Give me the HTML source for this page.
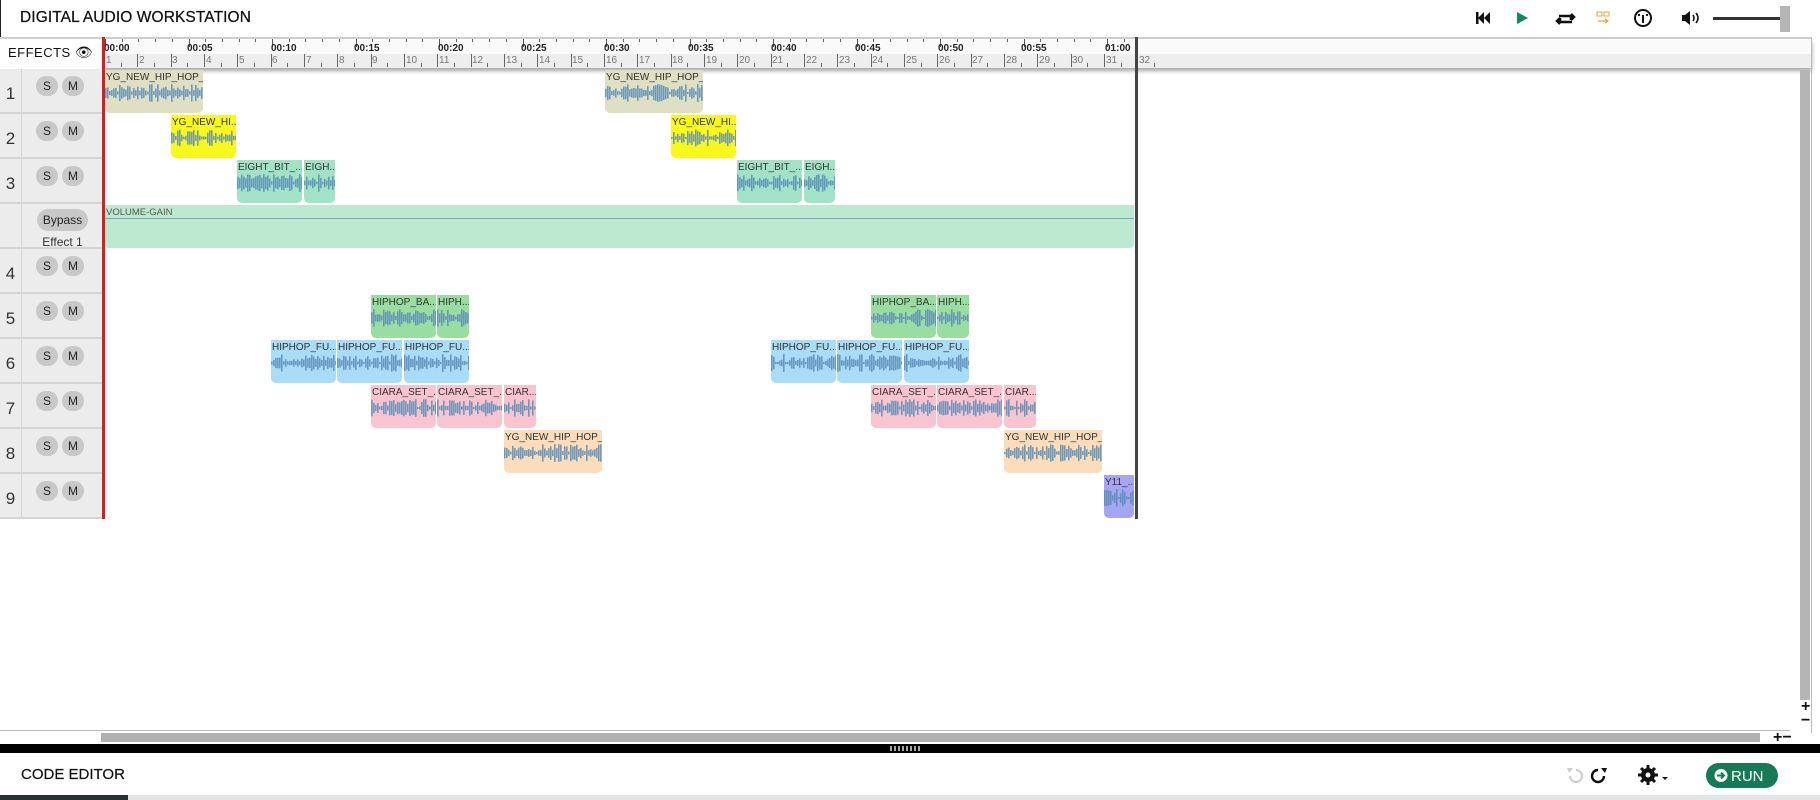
<!DOCTYPE html>
<html><head><meta charset="utf-8"><style>
*{box-sizing:border-box;margin:0;padding:0}
body{width:1820px;height:800px;overflow:hidden;background:#fff;font-family:"Liberation Sans",sans-serif;position:relative}
.abs{position:absolute}
.title{left:20px;top:9px;font-size:15.5px;color:#111;letter-spacing:0.1px;-webkit-text-stroke:0.25px #111}
.hdrline{left:0;top:37px;width:1812px;height:2px;background:#cfcfcf}
.ruler{left:103px;top:39px;width:1709px;height:29px;background:#fafafa;box-shadow:0 3px 4px rgba(0,0,0,.35)}
.rsub{left:103px;top:54px;width:1709px;height:14px;background:#eeeeee}
.tl{position:absolute;top:43px;font-size:10px;font-weight:bold;color:#222}
.bn{position:absolute;top:55px;font-size:10px;color:#777}
.bl{position:absolute;top:54px;width:1px;height:13px;background:#666}
.bt{position:absolute;top:63px;width:1px;height:4px;background:#666}
.mt{position:absolute;top:39px;width:1px;height:8px;background:#555}
.st{position:absolute;top:39px;width:1px;height:3px;background:#666}
.effects{left:8px;top:44px;font-size:13px;color:#111;letter-spacing:0.5px}
.trk{position:absolute;left:0;width:103px;height:45px;background:#ececec;border-bottom:2px solid #d4d4d4}
.trk .num{position:absolute;left:0;top:0;width:22px;height:100%;border-right:1px solid #d6d6d6;font-size:17px;color:#333;text-align:center;padding-top:15px}
.btn{position:absolute;top:7px;width:22px;height:20px;border-radius:10px;background:#c8c8c8;font-size:12px;color:#222;text-align:center;line-height:20px}
.clip{position:absolute;height:43px;border-radius:0 0 5px 5px;overflow:hidden}
.clip span{position:absolute;left:1px;top:2px;font-size:10px;color:#333;white-space:nowrap}
.clip svg{position:absolute;left:0;top:12px}
</style></head><body>
<div class="abs" style="left:0;top:0;width:1px;height:37px;background:#222"></div>
<div class="abs title">DIGITAL AUDIO WORKSTATION</div>
<svg class="abs" style="left:1472px;top:6px" width="330" height="26">
 <rect x="4" y="6" width="2.5" height="12" fill="#111"/><polygon points="12,6 6,12 12,18" fill="#111"/><polygon points="18,6 12,12 18,18" fill="#111"/>
 <polygon points="45,6 56,12 45,18" fill="#13875e"/>
 <path d="M87 10 h12 v4 M99 8 l3 3 -3 3 M100 16 h-12 v-4 M88 18 l-3-3 3-3" stroke="#111" stroke-width="2.5" fill="none"/>
 <rect x="125" y="6" width="5" height="4" fill="none" stroke="#e8a33a" stroke-width="1"/><rect x="132" y="6" width="5" height="4" fill="none" stroke="#e8a33a" stroke-width="1"/>
 <path d="M126 15 h10 M133 13 l3 2 -3 2" stroke="#e8a33a" stroke-width="1.2" fill="none"/>
 <circle cx="171" cy="12" r="8" fill="none" stroke="#111" stroke-width="2"/><rect x="170" y="9" width="2" height="8" fill="#111"/><circle cx="167" cy="9" r="1.2" fill="#111"/><circle cx="175" cy="9" r="1.2" fill="#111"/>
 <polygon points="210,9 213,9 218,5 218,19 213,15 210,15" fill="#111"/><path d="M221 9 q2 3 0 6 M224 7 q4 5 0 10" stroke="#111" stroke-width="1.6" fill="none"/>
 <rect x="241" y="11" width="70" height="3" fill="#333"/>
 <rect x="308" y="0" width="10" height="26" fill="#b5b5b5"/>
</svg>
<div class="abs hdrline"></div>
<div class="abs ruler"></div>
<div class="abs rsub"></div>
<div class="abs effects">EFFECTS <span style="font-size:14px">&#128065;</span></div>
<div id="rl"></div>
<div class="tl" style="left:104px">00:00</div><div class="tl" style="left:187px">00:05</div><div class="tl" style="left:271px">00:10</div><div class="tl" style="left:354px">00:15</div><div class="tl" style="left:438px">00:20</div><div class="tl" style="left:521px">00:25</div><div class="tl" style="left:604px">00:30</div><div class="tl" style="left:688px">00:35</div><div class="tl" style="left:771px">00:40</div><div class="tl" style="left:855px">00:45</div><div class="tl" style="left:938px">00:50</div><div class="tl" style="left:1021px">00:55</div><div class="tl" style="left:1105px">01:00</div>
<div class="bn" style="left:106px">1</div><div class="bn" style="left:139px">2</div><div class="bn" style="left:172px">3</div><div class="bn" style="left:206px">4</div><div class="bn" style="left:239px">5</div><div class="bn" style="left:272px">6</div><div class="bn" style="left:306px">7</div><div class="bn" style="left:339px">8</div><div class="bn" style="left:372px">9</div><div class="bn" style="left:406px">10</div><div class="bn" style="left:439px">11</div><div class="bn" style="left:472px">12</div><div class="bn" style="left:506px">13</div><div class="bn" style="left:539px">14</div><div class="bn" style="left:572px">15</div><div class="bn" style="left:606px">16</div><div class="bn" style="left:639px">17</div><div class="bn" style="left:672px">18</div><div class="bn" style="left:706px">19</div><div class="bn" style="left:739px">20</div><div class="bn" style="left:772px">21</div><div class="bn" style="left:806px">22</div><div class="bn" style="left:839px">23</div><div class="bn" style="left:872px">24</div><div class="bn" style="left:906px">25</div><div class="bn" style="left:939px">26</div><div class="bn" style="left:972px">27</div><div class="bn" style="left:1006px">28</div><div class="bn" style="left:1039px">29</div><div class="bn" style="left:1072px">30</div><div class="bn" style="left:1106px">31</div><div class="bn" style="left:1139px">32</div>

<div class="trk" style="top:69px"><div class="num">1</div><div class="btn" style="left:36px">S</div><div class="btn" style="left:62px">M</div></div>
<div class="trk" style="top:114px"><div class="num">2</div><div class="btn" style="left:36px">S</div><div class="btn" style="left:62px">M</div></div>
<div class="trk" style="top:159px"><div class="num">3</div><div class="btn" style="left:36px">S</div><div class="btn" style="left:62px">M</div></div>
<div class="trk" style="top:204px"><div class="num"></div><div class="btn" style="left:37px;width:51px;top:5px;height:22px;line-height:22px;border-radius:11px;font-size:12px">Bypass</div><div style="position:absolute;left:22px;width:81px;top:31px;text-align:center;font-size:12px;color:#333">Effect 1</div></div>
<div class="trk" style="top:249px"><div class="num">4</div><div class="btn" style="left:36px">S</div><div class="btn" style="left:62px">M</div></div>
<div class="trk" style="top:294px"><div class="num">5</div><div class="btn" style="left:36px">S</div><div class="btn" style="left:62px">M</div></div>
<div class="trk" style="top:339px"><div class="num">6</div><div class="btn" style="left:36px">S</div><div class="btn" style="left:62px">M</div></div>
<div class="trk" style="top:384px"><div class="num">7</div><div class="btn" style="left:36px">S</div><div class="btn" style="left:62px">M</div></div>
<div class="trk" style="top:429px"><div class="num">8</div><div class="btn" style="left:36px">S</div><div class="btn" style="left:62px">M</div></div>
<div class="trk" style="top:474px"><div class="num">9</div><div class="btn" style="left:36px">S</div><div class="btn" style="left:62px">M</div></div>

<div class="abs" style="left:105px;top:205px;width:1029px;height:43px;background:#bde9d0;border-radius:0 0 4px 4px"></div>
<div class="abs" style="left:105px;top:218px;width:1029px;height:1px;background:#7fa7c0"></div>
<div class="abs" style="left:106px;top:207px;font-size:9.5px;color:#555">VOLUME-GAIN</div>

<div class="clip" style="left:105px;top:70px;width:98px;background:#dfdfc4"><span>YG_NEW_HIP_HOP_...</span></div>
<div class="clip" style="left:605px;top:70px;width:98px;background:#dfdfc4"><span>YG_NEW_HIP_HOP_...</span></div>
<div class="clip" style="left:171px;top:115px;width:65px;background:#f8f81c"><span>YG_NEW_HI...</span></div>
<div class="clip" style="left:671px;top:115px;width:65px;background:#f8f81c"><span>YG_NEW_HI...</span></div>
<div class="clip" style="left:237px;top:160px;width:65px;background:#a2e3c6"><span>EIGHT_BIT_...</span></div>
<div class="clip" style="left:304px;top:160px;width:31px;background:#a2e3c6"><span>EIGH...</span></div>
<div class="clip" style="left:737px;top:160px;width:65px;background:#a2e3c6"><span>EIGHT_BIT_...</span></div>
<div class="clip" style="left:804px;top:160px;width:31px;background:#a2e3c6"><span>EIGH...</span></div>
<div class="clip" style="left:371px;top:295px;width:65px;background:#9adda0"><span>HIPHOP_BA...</span></div>
<div class="clip" style="left:437px;top:295px;width:32px;background:#9adda0"><span>HIPH...</span></div>
<div class="clip" style="left:871px;top:295px;width:65px;background:#9adda0"><span>HIPHOP_BA...</span></div>
<div class="clip" style="left:937px;top:295px;width:32px;background:#9adda0"><span>HIPH...</span></div>
<div class="clip" style="left:271px;top:340px;width:65px;background:#a9dcf6"><span>HIPHOP_FU...</span></div>
<div class="clip" style="left:337px;top:340px;width:65px;background:#a9dcf6"><span>HIPHOP_FU...</span></div>
<div class="clip" style="left:404px;top:340px;width:65px;background:#a9dcf6"><span>HIPHOP_FU...</span></div>
<div class="clip" style="left:771px;top:340px;width:65px;background:#a9dcf6"><span>HIPHOP_FU...</span></div>
<div class="clip" style="left:837px;top:340px;width:65px;background:#a9dcf6"><span>HIPHOP_FU...</span></div>
<div class="clip" style="left:904px;top:340px;width:65px;background:#a9dcf6"><span>HIPHOP_FU...</span></div>
<div class="clip" style="left:371px;top:385px;width:65px;background:#f9c4cf"><span>CIARA_SET_...</span></div>
<div class="clip" style="left:437px;top:385px;width:65px;background:#f9c4cf"><span>CIARA_SET_...</span></div>
<div class="clip" style="left:504px;top:385px;width:32px;background:#f9c4cf"><span>CIAR...</span></div>
<div class="clip" style="left:871px;top:385px;width:65px;background:#f9c4cf"><span>CIARA_SET_...</span></div>
<div class="clip" style="left:937px;top:385px;width:65px;background:#f9c4cf"><span>CIARA_SET_...</span></div>
<div class="clip" style="left:1004px;top:385px;width:32px;background:#f9c4cf"><span>CIAR...</span></div>
<div class="clip" style="left:504px;top:430px;width:98px;background:#fbdcbb"><span>YG_NEW_HIP_HOP_...</span></div>
<div class="clip" style="left:1004px;top:430px;width:98px;background:#fbdcbb"><span>YG_NEW_HIP_HOP_...</span></div>
<div class="clip" style="left:1104px;top:475px;width:30px;background:#a5a5f3"><span>Y11_...</span></div>

<div class="abs" style="left:102px;top:37px;width:3px;height:482px;background:#d42020"></div>
<div class="abs" style="left:1135px;top:37px;width:3px;height:482px;background:#444"></div>

<div class="abs" style="left:1811px;top:37px;width:1px;height:696px;background:#bbb"></div>
<div class="abs" style="left:1800px;top:70px;width:10px;height:630px;background:#b5b5b5"></div>
<div class="abs" style="left:1801px;top:700px;font-size:16px;font-weight:bold;color:#111;line-height:14px">+<br>&minus;</div>
<div class="abs" style="left:0;top:730px;width:1790px;height:1px;background:#bbb"></div>
<div class="abs" style="left:101px;top:733px;width:1659px;height:9px;background:#b0b0b0"></div>
<div class="abs" style="left:1773px;top:729px;font-size:16px;font-weight:bold;color:#111">+&minus;</div>
<div class="abs" style="left:0;top:744px;width:1820px;height:9px;background:#000"></div>
<div class="abs" style="left:890px;top:746px;width:32px;height:5px;background:repeating-linear-gradient(90deg,#aaa 0 2px,transparent 2px 4px)"></div>
<div class="abs" style="left:21px;top:766px;font-size:15px;color:#111;-webkit-text-stroke:0.2px #111">CODE EDITOR</div>
<svg class="abs" style="left:1555px;top:760px" width="240" height="32">
 <path d="M21 10 a6 6 0 1 1 -6 6" stroke="#ccc" stroke-width="2" fill="none"/><polygon points="12,8 18,8 14,13" fill="#ccc"/>
 <path d="M43 10 a6 6 0 1 0 6 6" stroke="#111" stroke-width="2.4" fill="none"/><polygon points="52,8 46,8 50,13" fill="#111"/>
 <circle cx="93" cy="15" r="7" fill="#111"/>
 <g stroke="#111" stroke-width="3"><line x1="93" y1="5" x2="93" y2="25"/><line x1="83" y1="15" x2="103" y2="15"/><line x1="86" y1="8" x2="100" y2="22"/><line x1="100" y1="8" x2="86" y2="22"/></g>
 <circle cx="93" cy="15" r="2.5" fill="#fff"/>
 <polygon points="107,17 113,17 110,20" fill="#111"/>
 <rect x="151" y="3" width="72" height="25" rx="12.5" fill="#167a57"/>
 <circle cx="166" cy="15.5" r="6.5" fill="#fff"/><path d="M162 15.5 h7 M166 12.5 l3 3 -3 3" stroke="#167a57" stroke-width="2" fill="none"/>
 <text x="176" y="21" font-family="Liberation Sans" font-size="15" fill="#fff">RUN</text>
</svg>
<div class="abs" style="left:0;top:795px;width:1820px;height:5px;background:#e4e4e4"></div>
<div class="abs" style="left:0;top:795px;width:128px;height:5px;background:#233"></div>

<script>
(function(){
 var rl=document.getElementById('rl'),h='';
 for(var b=0;b<32;b++){var x=104+b*33.33;
  h+='<div class="bl" style="left:'+Math.round(x)+'px"></div><div class="bt" style="left:'+Math.round(x+16.7)+'px"></div>';}
 for(var s=0;s<=61;s++){var x=105+s*16.7;
  h+='<div class="'+(s%5==0?'mt':'st')+'" style="left:'+Math.round(x)+'px"></div>';}
 rl.innerHTML=h;
 var seed=7;function r(){seed=(seed*9301+49297)%233280;return seed/233280;}
 document.querySelectorAll('.clip').forEach(function(c){
  var w=c.offsetWidth,p='';
  for(var x=0;x<w;x+=2){var a=1+r()*8;p+='<rect x="'+x+'" y="'+(11-a)+'" width="1.6" height="'+(2*a)+'"/>';}
  c.insertAdjacentHTML('beforeend','<svg width="'+w+'" height="22" fill="#5b8db8" opacity="0.85">'+p+'</svg>');
 });
})();
</script>
</body></html>
